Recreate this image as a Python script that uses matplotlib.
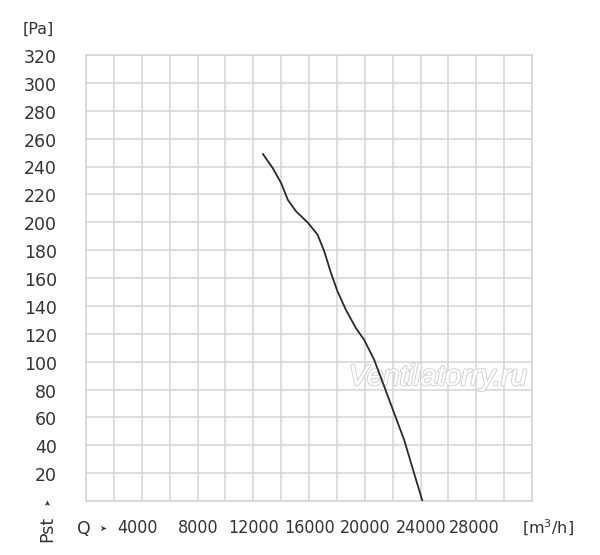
import matplotlib
matplotlib.use("Agg")
import matplotlib.pyplot as plt
import matplotlib.transforms as mtransforms
import matplotlib.patheffects as pe

# data
q_flow = [12690, 13400, 14000, 14480, 15080, 15910, 16620, 17100, 17580, 18050,
          18650, 19370, 19960, 20680, 21400, 22110, 22830, 23540, 24140]
p_static = [249, 238.8, 228.1, 216.1, 207.7, 199.8, 191.0, 179.0, 163.5, 150.3,
            137.1, 124.0, 115.6, 101.2, 82.1, 63.0, 43.8, 19.9, 0]
x_tick_vals = [4000, 8000, 12000, 16000, 20000, 24000, 28000]
x_tick_labels = ["4000", "8000", "12000", "16000", "20000", "24000", "28000"]
y_tick_vals = list(range(20, 321, 20))
y_tick_labels = [str(v) for v in y_tick_vals]

fig = plt.figure(figsize=(6.0, 5.55), dpi=100)
ax = fig.add_axes([86/600, 1-501/555, 446/600, 446/555])
ax.set_xlim(0, 32000)
ax.set_ylim(0, 320)

grid_c = "#d4d4d4"
ax.set_xticks(range(0, 32001, 2000))
ax.set_yticks(range(0, 321, 20))
ax.grid(True, color=grid_c, lw=1.1)
ax.set_axisbelow(True)
ax.tick_params(length=0, labelbottom=False, labelleft=False)
for s in ax.spines.values():
    s.set_color(grid_c)
    s.set_linewidth(1.1)

# watermark (under the curve)
wm = ax.text(438/600, 1-377/555, "Ventilatorry.ru", transform=fig.transFigure,
             ha="center", va="center", fontsize=21, style="italic",
             color="white", alpha=0.85, family="Liberation Sans", zorder=1.5)
wm.set_path_effects([pe.withStroke(linewidth=1.6, foreground="#cdcdcd"), pe.Normal()])

ax.plot(q_flow, p_static, color="#2a2a2a", lw=1.3, solid_capstyle="round",
        solid_joinstyle="round", zorder=3)

txt_c = "#333333"
# y labels (sit slightly below their grid lines, as in the reference)
ytr = mtransforms.blended_transform_factory(fig.transFigure, ax.transData) + \
    mtransforms.ScaledTranslation(0, -3/100, fig.dpi_scale_trans)
for v, lab in zip(y_tick_vals, y_tick_labels):
    ax.text(57/600, v, lab, transform=ytr, ha="right", va="center",
            fontsize=12.5, color=txt_c, family="DejaVu Sans")

# x labels
x_offsets_px = [-4, 1, 0, 1, 0, 1, -2]
xtr = mtransforms.blended_transform_factory(ax.transData, fig.transFigure)
for v, lab, off in zip(x_tick_vals, x_tick_labels, x_offsets_px):
    tr = xtr + mtransforms.ScaledTranslation(off/100, 0, fig.dpi_scale_trans)
    ax.text(v, 1-528/555, lab, transform=tr, ha="center", va="center",
            fontsize=12.8, color=txt_c, family="DejaVu Sans", stretch="condensed")

fig.text(23/600, 1-29/555, "[Pa]", ha="left", va="center", fontsize=11.5, color=txt_c)
fig.text(522/600, 1-528/555, "[m$^3$/h]", ha="left", va="center", fontsize=11.5, color=txt_c)
fig.text(77/600, 1-529/555, "Q", ha="left", va="center", fontsize=12.5, color=txt_c)
fig.text(103/600, 1-528/555, "\u27a4", ha="center", va="center", fontsize=6, color=txt_c)
fig.text(47/600, 1-529/555, "Pst", ha="center", va="center", rotation=90, fontsize=12.5, color=txt_c)
fig.text(48/600, 1-503/555, "\u27a4", ha="center", va="center", rotation=90, fontsize=6, color=txt_c)

fig.savefig("out.png", dpi=100, facecolor="white")
